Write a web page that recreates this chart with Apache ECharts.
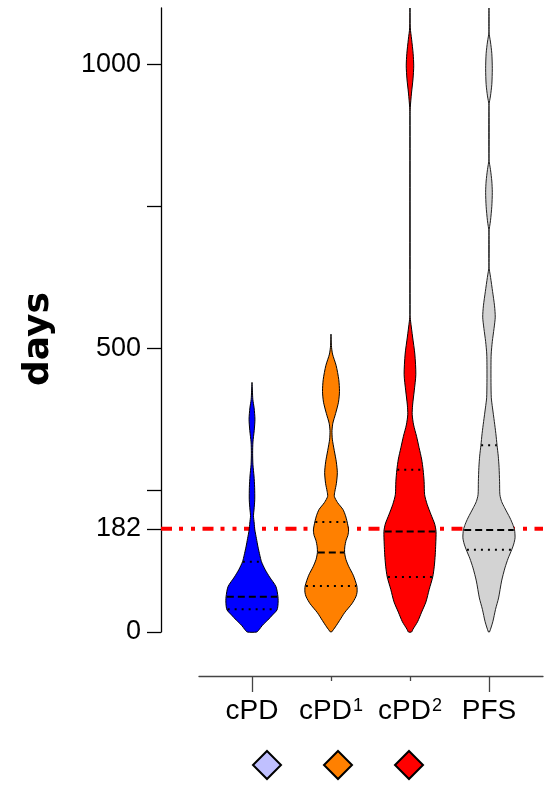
<!DOCTYPE html>
<html>
<head>
<meta charset="utf-8">
<script src="https://cdn.jsdelivr.net/npm/echarts@6/dist/echarts.min.js"></script>
<style>html,body{margin:0;padding:0;background:#fff;}#chart{width:552px;height:786px;}</style>
</head>
<body>
<div id="chart"></div>
<script>
// ---- data ----
const categories = ['cPD', 'cPD{sup|1}', 'cPD{sup|2}', 'PFS'];
const seriesNames = ['cPD', 'cPD\u00B9', 'cPD\u00B2', 'PFS'];
const fillColors = ['#0000ff', '#ff8000', '#ff0000', '#d3d3d3'];
const legendNames = ['cPD', 'cPD\u00B9', 'cPD\u00B2'];
const legendColors = ['#c0c0ff', '#ff8000', '#ff0000'];
const yTickValues = [0, 182, 250, 500, 750, 1000];
const yLabelValues = [0, 182, 500, 1000];
const threshold = 182;
const yMax = 1100;

// density profiles: [days, relative density]
const cpdProfile = [[440,0],[425,0.4],[410,0.8],[395,2.0],[375,2.8],[355,2.1],[335,0.9],[315,0.6],[295,0.9],[275,1.9],[255,2.5],[233,2.6],[215,1.9],[205,1.4],[192,2.1],[180,2.7],[165,4.2],[150,5.7],[135,7.5],[124,9.0],[110,12.5],[97,16.7],[80,22.8],[62,24.7],[50,24.8],[39,23.8],[30,19.5],[21,15.0],[12,10],[4,6.7],[0,4.5]];
const cpd1Profile = [[525,0],[505,0.4],[490,1.5],[470,5.0],[445,7.6],[424,8.3],[405,7.3],[385,4.5],[368,1.8],[355,1.0],[340,1.3],[320,3.2],[300,5.2],[281,6.2],[262,5.3],[248,3.8],[239,3.3],[228,6.5],[216,11.7],[205,14.2],[194,15.8],[180,17.2],[170,16.5],[162,14.8],[150,13.5],[140,13.3],[128,14.6],[115,17.5],[100,21.8],[81,25.3],[70,25.5],[62,24.3],[50,20.5],[34,13.3],[20,8.3],[9,4.3],[0,0.5]];
const cpd2Profile = [[1100,0],[1065,0.3],[1045,1.6],[1020,3.1],[998,3.7],[975,3.0],[950,1.5],[925,0.3],[910,0],[560,0],[548,0.6],[520,2.6],[490,4.8],[454,5.8],[425,4.2],[400,2.6],[383,2.2],[365,3.6],[345,6.5],[325,9.0],[305,11.5],[286,13.0],[265,14.0],[242,14.5],[225,17.0],[207,20.8],[190,24.5],[177,25.8],[155,25.5],[136,25.0],[115,24.0],[97,22.5],[75,19.0],[53,15.8],[35,11.5],[18,7.5],[5,3.0],[0,1.5]];
const pfsProfile = [[1100,0],[1058,0],[1040,1.5],[1020,2.8],[993,3.3],[965,2.8],[945,1.5],[928,0],[834,0],[815,1.5],[795,2.8],[775,3.3],[750,2.8],[725,1.5],[705,0],[645,0],[625,1.6],[600,3.6],[575,5.5],[555,6.2],[535,5.0],[512,3.3],[490,2.2],[470,2.0],[440,2.0],[413,2.3],[395,3.5],[371,5.3],[350,6.8],[329,8.0],[310,9.2],[290,10.0],[265,10.5],[242,10.8],[230,12.5],[219,15.5],[201,20.8],[190,23.5],[180,25.3],[166,25.8],[155,24.5],[145,22.5],[130,19.0],[113,15.8],[90,12.5],[60,9.5],[40,6.5],[18,3.8],[0,0.5]];
const profiles = [cpdProfile, cpd1Profile, cpd2Profile, pfsProfile];

// [lower quartile, median, upper quartile]
const quartiles = [[40,62,124],[81,140,194],[97,177,286],[145,180,329]];

// ---- layout / style ----
const violinHalfWidth = 0.33;   // in category units
const yAxisOffset = 38;
const xAxisOffset = 44;

function halfWidthAt(prof, maxD, v) {
  for (let i = 0; i < prof.length - 1; i++) {
    const a = prof[i], b = prof[i + 1];
    if (v <= a[0] && v >= b[0]) {
      const t = (a[0] - v) / (a[0] - b[0] || 1);
      return (a[1] + (b[1] - a[1]) * t) / maxD * violinHalfWidth;
    }
  }
  return 0;
}

function violinRender(gi) {
  return function (params, api) {
    const prof = profiles[gi];
    const maxD = Math.max.apply(null, prof.map(p => p[1]));
    const gx = gi + 1;
    const right = prof.map(p => api.coord([gx + p[1] / maxD * violinHalfWidth, p[0]]));
    const left = prof.slice().reverse().map(p => api.coord([gx - p[1] / maxD * violinHalfWidth, p[0]]));
    const children = [{
      type: 'polygon',
      shape: { points: right.concat(left), smooth: 0.25 },
      style: { fill: fillColors[gi], stroke: gi === 3 ? '#222' : '#000', lineWidth: 1 }
    }];
    quartiles[gi].forEach((q, k) => {
      const w = halfWidthAt(prof, maxD, q) * 0.97;
      const p1 = api.coord([gx - w, q]);
      const p2 = api.coord([gx + w, q]);
      children.push({
        type: 'line',
        shape: { x1: p1[0], y1: p1[1], x2: p2[0], y2: p2[1] },
        style: { stroke: '#000', lineWidth: 2, lineDash: k === 1 ? [7, 4] : [2, 5] }
      });
    });
    return { type: 'group', children: children };
  };
}

const series = seriesNames.map((name, gi) => ({
  name: name,
  type: 'custom',
  color: gi < 3 ? legendColors[gi] : fillColors[gi],
  z: 3,
  clip: false,
  encode: { x: 0, y: 1 },
  data: [[gi + 1, quartiles[gi][1]]],
  renderItem: violinRender(gi)
}));

series.unshift({
  name: 'threshold',
  type: 'custom',
  z: 2,
  clip: false,
  encode: { x: 0, y: 1 },
  data: [[1, threshold]],
  renderItem: function (params, api) {
    const cs = params.coordSys;
    const y = api.coord([1, api.value(1)])[1];
    return {
      type: 'line',
      shape: { x1: cs.x - yAxisOffset, y1: y, x2: cs.x + cs.width, y2: y },
      style: { stroke: '#ff0000', lineWidth: 4, lineDash: [11, 7, 4, 8, 4, 7.5] }
    };
  }
});

const chart = echarts.init(document.getElementById('chart'), null, { renderer: 'canvas' });
chart.setOption({
  animation: false,
  backgroundColor: '#fff',
  grid: { left: 199, right: 9, top: 8, bottom: 154, containLabel: false, outerBoundsMode: 'none' },
  xAxis: [{
    type: 'value',
    min: 0.329,
    max: 4.684,
    offset: xAxisOffset,
    splitLine: { show: false },
    axisLine: { onZero: false, lineStyle: { color: '#444', width: 1.3 } },
    axisTick: { show: true, customValues: [2, 3], length: 5, lineStyle: { color: '#444', width: 1.3 } },
    axisLabel: {
      customValues: [1, 2, 3, 4],
      formatter: v => categories[Math.round(v) - 1],
      fontFamily: 'Liberation Sans', fontSize: 28, color: '#000', margin: 21,
      rich: {
        sup: { fontFamily: 'Liberation Sans', fontSize: 18, color: '#000', verticalAlign: 'top', lineHeight: 28, padding: [0, 0, 12, 1] }
      }
    }
  }, {
    type: 'value',
    position: 'bottom',
    min: 0.329,
    max: 4.684,
    offset: xAxisOffset,
    splitLine: { show: false },
    axisLine: { show: false, onZero: false },
    axisTick: { show: true, customValues: [1, 4], length: 16, lineStyle: { color: '#444', width: 1.3 } },
    axisLabel: { show: false }
  }],
  yAxis: {
    type: 'value',
    min: 0,
    max: yMax,
    offset: yAxisOffset,
    splitLine: { show: false },
    axisLine: { show: true, onZero: false, lineStyle: { color: '#000', width: 1.3 } },
    axisTick: { show: true, customValues: yTickValues, length: 14, lineStyle: { color: '#000', width: 1.3 } },
    axisLabel: {
      customValues: yLabelValues,
      formatter: v => String(v),
      fontFamily: 'Liberation Sans', fontSize: 27, color: '#000', margin: 20
    }
  },
  legend: {
    left: 247,
    top: 745,
    icon: 'diamond',
    itemWidth: 28,
    itemHeight: 28,
    itemGap: 41,
    selectedMode: false,
    formatter: () => '',
    data: legendNames.map((n, i) => ({ name: n, itemStyle: { color: legendColors[i], borderColor: '#000', borderWidth: 2 } }))
  },
  graphic: [{
    type: 'text',
    x: 39,
    y: 339,
    rotation: Math.PI / 2,
    style: {
      text: 'days',
      font: 'bold 36px "DejaVu Sans"',
      fill: '#000',
      textAlign: 'center',
      textVerticalAlign: 'middle'
    }
  }],
  series: series
});
</script>
</body>
</html>
